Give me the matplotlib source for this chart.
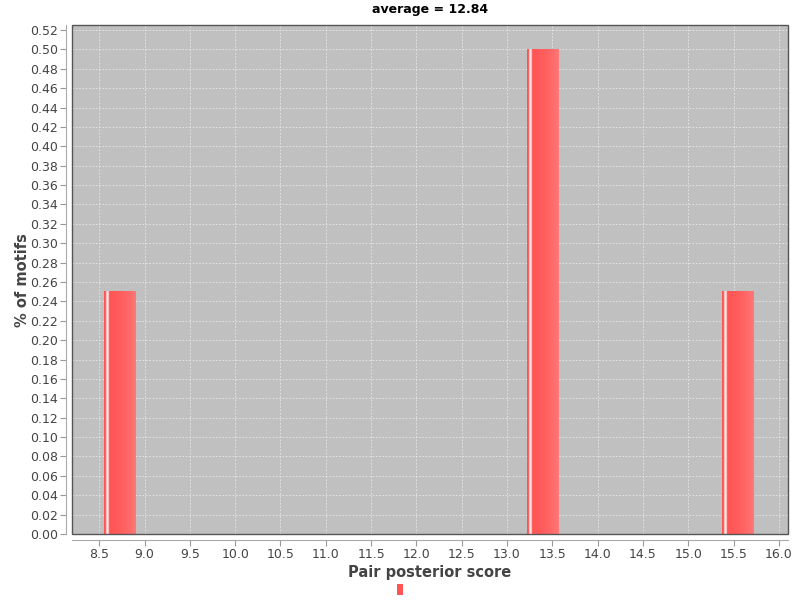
import matplotlib
matplotlib.use("Agg")
import matplotlib.pyplot as plt
import numpy as np
from matplotlib.patches import Rectangle, Patch

# histogram bins (left edge, width) and share of motifs
bin_left = [8.55, 13.22, 15.37]
bin_width = [0.35, 0.35, 0.35]
share = [0.25, 0.50, 0.25]
title = "average = 12.84"

fig = plt.figure(figsize=(8, 6), dpi=100)
ax = fig.add_axes([0.09, 0.11, 0.895, 0.848])
ax.set_facecolor("#c0c0c0")

# horizontal gradient used for every bar (jfreechart look)
t = np.linspace(0, 1, 64)
base = np.array([1.0, 0.33, 0.33])
light = np.array([1.0, 0.47, 0.47])
grad = base[None, :] + (light - base)[None, :] * t[:, None] ** 2
grad[(t > 0.07) & (t < 0.13)] = [1.0, 0.9, 0.9]
grad[(t > 0.05) & (t <= 0.07)] = [1.0, 0.7, 0.7]
grad[(t >= 0.13) & (t < 0.15)] = [1.0, 0.7, 0.7]
grad = grad[None, :, :]

for x0, w, h in zip(bin_left, bin_width, share):
    ax.imshow(grad, extent=[x0, x0 + w, 0, h], aspect="auto",
              interpolation="bilinear", zorder=3)

ax.set_xlim(8.2, 16.1)
ax.set_ylim(0, 0.525)
ax.set_xticks(np.arange(8.5, 16.01, 0.5))
ax.set_yticks(np.arange(0, 0.521, 0.02))
ax.xaxis.set_major_formatter(matplotlib.ticker.FormatStrFormatter("%.1f"))
ax.yaxis.set_major_formatter(matplotlib.ticker.FormatStrFormatter("%.2f"))
ax.grid(True, color="#e8e8e8", linestyle=(0, (2, 2)), linewidth=0.6, zorder=1)
ax.set_axisbelow(True)

ax.tick_params(axis="both", labelsize=9, colors="#444444", length=4,
               width=0.8, color="#999999", pad=2)
for s in ["top", "right"]:
    ax.spines[s].set_visible(False)
for s in ["left", "bottom"]:
    ax.spines[s].set_position(("outward", 4))
    ax.spines[s].set_color("#aaaaaa")
    ax.spines[s].set_linewidth(0.8)
ax.add_patch(Rectangle((0, 0), 1, 1, transform=ax.transAxes, fill=False,
                       edgecolor="#555555", linewidth=1, clip_on=False, zorder=5))

ax.set_xlabel("Pair posterior score", fontsize=10.5, fontweight="bold",
              color="#444444", labelpad=3)
ax.set_ylabel("% of motifs", fontsize=10.5, fontweight="bold",
              color="#444444", labelpad=0)
ax.set_title(title, fontsize=9, fontweight="bold", pad=9)

fig.legend(handles=[Patch(facecolor="#ff5555", edgecolor="none")], labels=[""],
           loc="center", bbox_to_anchor=(0.5, 0.017), frameon=False,
           handlelength=0.5, handleheight=1.2, handletextpad=0, fontsize=8)

fig.savefig("out.png", dpi=100, facecolor="white")
